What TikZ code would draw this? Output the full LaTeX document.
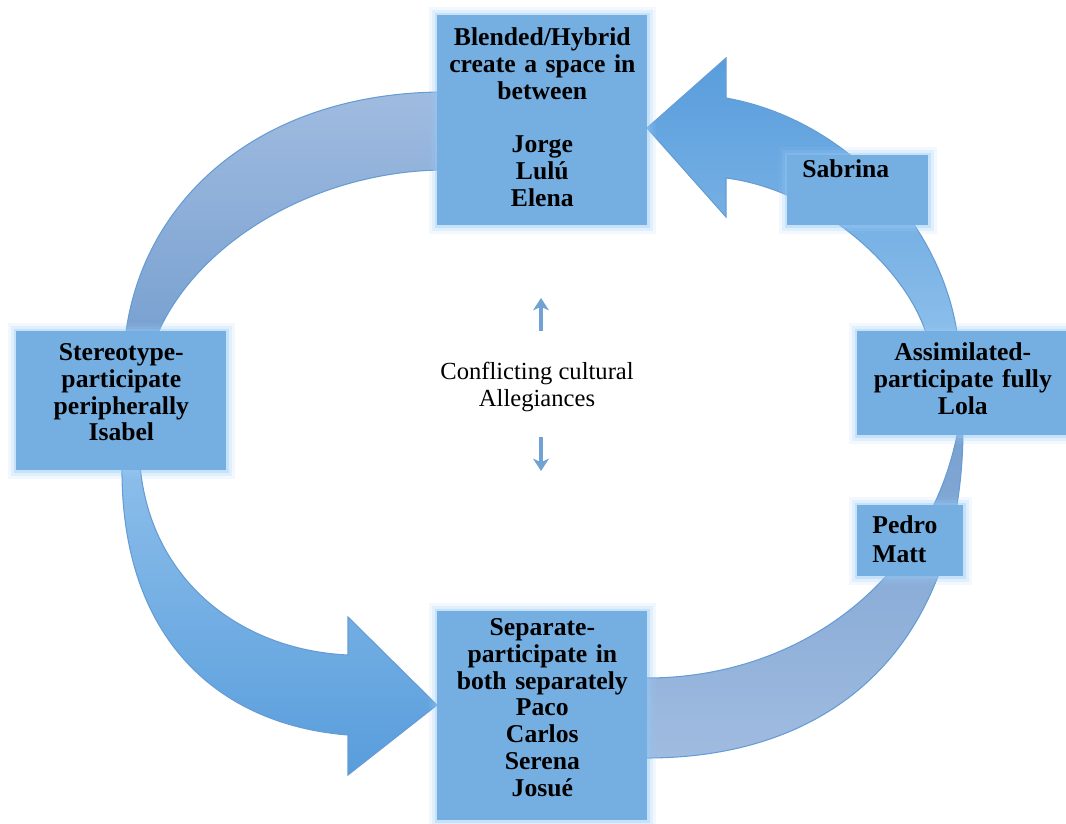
\documentclass[tikz,border=0pt]{standalone}
\usepackage{fontspec}
\setmainfont{Liberation Serif}
\usetikzlibrary{arrows.meta}
\definecolor{boxBlue}{RGB}{117,175,226}
\definecolor{glowBlue}{RGB}{150,200,245}
\definecolor{edgeBlue}{RGB}{102,156,212}
\definecolor{greyBlueLight}{RGB}{160,187,224}
\definecolor{greyBlueDark}{RGB}{120,161,208}
\definecolor{arrowBlueLight}{RGB}{140,190,234}
\definecolor{arrowBlueDark}{RGB}{88,157,220}
\definecolor{smallBlue}{RGB}{112,162,212}
\newcommand\boxfont{\bfseries\fontsize{14.6}{15.3}\selectfont}

\tikzset{
    glowbox/.style={fill=boxBlue, inner sep=0pt, align=center, font=\boxfont,
        preaction={draw=glowBlue, line width=10pt, opacity=.12},
        preaction={draw=glowBlue, line width=6pt, opacity=.2},
        preaction={draw=glowBlue, line width=3pt, opacity=.35}},
    namebox/.style={glowbox, align=left, inner xsep=0.3cm},
    band/.style={draw=edgeBlue, line width=.6pt},
    smallarrow/.style={draw=smallBlue, line width=1.8pt,
        -{Stealth[width=9pt,length=7pt,inset=2pt]}}
}

\begin{document}
\begin{tikzpicture}[x=0.02cm, y=-0.02cm]
    \useasboundingbox (0,0) rectangle (1066,824);
    % bands behind the boxes
    \shadedraw[band, top color=greyBlueLight, bottom color=greyBlueDark]
        (125,340) .. controls (140,200) and (260,92) .. (445,92) -- (445,170)
        .. controls (320,170) and (195,240) .. (155,340) -- cycle;
    \shadedraw[band, top color=greyBlueDark, bottom color=greyBlueLight]
        (640,758) -- (647,758) .. controls (840,758) and (962,640) .. (963,430)
        -- (958,430) .. controls (930,580) and (800,678) .. (647,678) -- (640,678) -- cycle;
    \shadedraw[band, top color=arrowBlueLight, bottom color=arrowBlueDark]
        (122,465) .. controls (120,640) and (220,725) .. (348,735) -- (348,775)
        -- (437,705) -- (348,617) -- (348,655)
        .. controls (240,650) and (150,580) .. (140,465) -- cycle;
    \shadedraw[band, top color=arrowBlueDark, bottom color=arrowBlueLight]
        (726,98) .. controls (850,120) and (945,230) .. (958,340) -- (928,340)
        .. controls (910,270) and (820,190) .. (726,178) -- (726,217)
        -- (647,128) -- (726,58) -- cycle;
    % boxes
    \node[glowbox, anchor=north west, text width=4.2cm, text height=0.6cm, text depth=3.6cm]
        (blend) at (437,15) {Blended/Hybrid\\create a space in\\between\\[15.3pt]Jorge\\Lulú\\Elena};
    \node[glowbox, anchor=north west, text width=4.2cm, text height=0.58cm, text depth=2.2cm]
        (stereo) at (16,331) {Stereotype-\\participate\\peripherally\\Isabel};
    \node[glowbox, anchor=north west, text width=4.2cm, text height=0.48cm, text depth=3.7cm]
        (separ) at (437,611) {Separate-\\participate in\\both separately\\Paco\\Carlos\\Serena\\Josué};
    \node[glowbox, anchor=north west, text width=4.22cm, text height=0.58cm, text depth=1.5cm]
        (assim) at (857,331) {Assimilated-\\participate fully\\Lola};
    \node[namebox, anchor=north west, text width=2.22cm, text height=0.44cm, text depth=0.96cm]
        (sabrina) at (787,155) {Sabrina};
    \node[namebox, anchor=north west, text width=1.52cm, text height=0.56cm, text depth=0.86cm]
        (pedro) at (857,505) {Pedro\\[1.3pt]Matt};
    % centre
    \node[align=center, font=\fontsize{14}{15.2}\selectfont] (conf) at (537,387)
        {Conflicting cultural\\Allegiances};
    \coordinate (upTail) at (541,331);
    \coordinate (upHead) at (541,298);
    \coordinate (downTail) at (541,437);
    \coordinate (downHead) at (541,471);
    \draw[smallarrow] (upTail) -- (upHead);
    \draw[smallarrow] (downTail) -- (downHead);
\end{tikzpicture}
\end{document}
